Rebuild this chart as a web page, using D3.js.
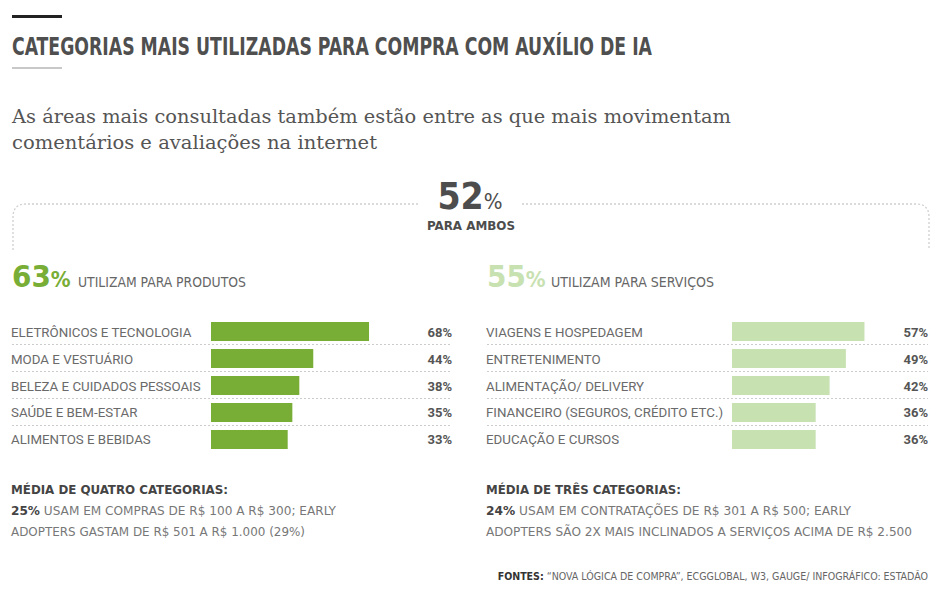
<!DOCTYPE html>
<html><head><meta charset="utf-8">
<script src="https://cdn.jsdelivr.net/npm/d3@7"></script>
<style>
html,body{margin:0;padding:0;background:#fff;}
svg{display:block;}
</style></head>
<body>
<script>
// ---- data ----
const produtosCategories = ["ELETRÔNICOS E TECNOLOGIA","MODA E VESTUÁRIO","BELEZA E CUIDADOS PESSOAIS","SAÚDE E BEM-ESTAR","ALIMENTOS E BEBIDAS"];
const produtosValues = [68,44,38,35,33];
const servicosCategories = ["VIAGENS E HOSPEDAGEM","ENTRETENIMENTO","ALIMENTAÇÃO/ DELIVERY","FINANCEIRO (SEGUROS, CRÉDITO ETC.)","EDUCAÇÃO E CURSOS"];
const servicosValues = [57,49,42,36,36];
const ambosShare = 52;
const produtosShare = 63;
const servicosShare = 55;

const title = "CATEGORIAS MAIS UTILIZADAS PARA COMPRA COM AUXÍLIO DE IA";
const subtitleLines = ["As áreas mais consultadas também estão entre as que mais movimentam","comentários e avaliações na internet"];
const leftNote = {head:"MÉDIA DE QUATRO CATEGORIAS:", bold:"25%", lines:[" USAM EM COMPRAS DE R$ 100 A R$ 300; EARLY","ADOPTERS GASTAM DE R$ 501 A R$ 1.000 (29%)"]};
const rightNote = {head:"MÉDIA DE TRÊS CATEGORIAS:", bold:"24%", lines:[" USAM EM CONTRATAÇÕES DE R$ 301 A R$ 500; EARLY","ADOPTERS SÃO 2X MAIS INCLINADOS A SERVIÇOS ACIMA DE R$ 2.500"]};
const sourceBold = "FONTES:";
const sourceText = " \u201CNOVA LÓGICA DE COMPRA\u201D, ECGGLOBAL, W3, GAUGE/ INFOGRÁFICO: ESTADÃO";

// ---- drawing ----
const W = 938, H = 601;
const svg = d3.select("body").append("svg").attr("width", W).attr("height", H);
const COND = "'DejaVu Sans Condensed','Liberation Sans Narrow','Roboto',sans-serif";
const SANS = "Roboto,'Noto Sans',sans-serif";
const darkGreen = "#78ad36", lightGreen = "#c8e1b1";

// fit a text element to a target width by adjusting its font-size
function fitWidth(sel, target){
  const n = sel.node();
  const w = n.getComputedTextLength();
  if (w > 0){
    const fs = parseFloat(sel.attr("font-size"));
    sel.attr("font-size", (fs*target/w).toFixed(2));
  }
  return sel;
}

// top rules
svg.append("rect").attr("x",12).attr("y",15).attr("width",50).attr("height",3).attr("fill","#222");
svg.append("rect").attr("x",12).attr("y",67).attr("width",50).attr("height",2).attr("fill","#c8c8c8");

// title
svg.append("text").attr("x",12).attr("y",55).text(title)
  .attr("font-family",COND).attr("font-weight",700).attr("font-size",24.5)
  .attr("fill","#4f4f4f").attr("textLength",640).attr("lengthAdjust","spacingAndGlyphs");

// subtitle
const subW = [719, 365];
subtitleLines.forEach((t,i)=>{
  svg.append("text").attr("x",12).attr("y",123+i*25.5).text(t)
    .attr("font-family","'DejaVu Serif','Liberation Serif',serif").attr("font-size",19)
    .attr("fill","#555").attr("textLength",subW[i]).attr("lengthAdjust","spacingAndGlyphs");
});

// dotted rounded box
const r = 13, bx0 = 13, bx1 = 929, by = 204, byb = 250;
svg.append("path").attr("d",`M418,${by} L${bx0+r},${by} Q${bx0},${by} ${bx0},${by+r} L${bx0},${byb}`)
  .attr("fill","none").attr("stroke","#cfcfcf").attr("stroke-width",1.3).attr("stroke-dasharray","2,2");
svg.append("path").attr("d",`M522,${by} L${bx1-r},${by} Q${bx1},${by} ${bx1},${by+r} L${bx1},${byb}`)
  .attr("fill","none").attr("stroke","#cfcfcf").attr("stroke-width",1.3).attr("stroke-dasharray","2,2");

// 52%
const big = svg.append("text").attr("x",470).attr("y",209).attr("text-anchor","middle")
  .attr("font-family",COND).attr("font-weight",700).attr("fill","#4d4d4d");
big.append("tspan").attr("font-size",37).text(ambosShare);
big.append("tspan").attr("font-size",22).attr("font-weight",400).text("%");
svg.append("text").attr("x",471).attr("y",230).attr("text-anchor","middle").text("PARA AMBOS")
  .attr("font-family",COND).attr("font-weight",700).attr("font-size",12).attr("fill","#4d4d4d")
  .attr("textLength",88).attr("lengthAdjust","spacingAndGlyphs");

// panels
const xScale = d3.scaleLinear().domain([0,100]).range([0,232.4]);

function panel(opt){
  const g = svg.append("g");
  // header
  const h = g.append("text").attr("x",opt.x0).attr("y",287);
  h.append("tspan").attr("font-family",COND).attr("font-weight",700).attr("font-size",31).attr("fill",opt.color).text(opt.share);
  h.append("tspan").attr("font-family",COND).attr("font-weight",700).attr("font-size",22).attr("fill",opt.color).text("%");
  fitWidth(g.append("text").attr("x",opt.headX).attr("y",287).text(opt.headText)
    .attr("font-family",COND).attr("font-size",13).attr("fill","#666"), opt.headW);

  const y = d3.scaleBand().domain(opt.cats).range([322,449]).paddingInner(0.296).paddingOuter(0);
  const rows = opt.cats.map((c,i)=>({c, v:opt.vals[i]}));
  // separators
  g.selectAll("line.sep").data(rows.slice(0,-1)).join("line")
    .attr("x1",opt.x0).attr("x2",opt.x1)
    .attr("y1",d=>y(d.c)+y.bandwidth()+3.5).attr("y2",d=>y(d.c)+y.bandwidth()+3.5)
    .attr("stroke","#cccccc").attr("stroke-width",1).attr("stroke-dasharray","2,2");
  g.selectAll("rect.bar").data(rows).join("rect")
    .attr("x",opt.barX).attr("y",d=>y(d.c)).attr("width",d=>xScale(d.v)).attr("height",y.bandwidth())
    .attr("fill",opt.color);
  g.selectAll("text.lab").data(rows).join("text")
    .attr("x",opt.x0-1).attr("y",d=>y(d.c)+y.bandwidth()/2+5).text(d=>d.c)
    .attr("font-family",SANS).attr("font-size",13.3).attr("fill","#6a6a6a");
  g.selectAll("text.val").data(rows).join("text")
    .attr("x",opt.x1).attr("y",d=>y(d.c)+y.bandwidth()/2+5).attr("text-anchor","end").text(d=>d.v+"%")
    .attr("font-family",SANS).attr("font-weight",700).attr("font-size",13).attr("fill","#555");

  // note
  g.append("text").attr("x",opt.x0-1).attr("y",494).text(opt.note.head)
    .attr("font-family",COND).attr("font-weight",700).attr("font-size",13).attr("fill","#444")
    .attr("textLength",opt.noteW[0]).attr("lengthAdjust","spacingAndGlyphs");
  const l1 = g.append("text").attr("x",opt.x0-1).attr("y",515)
    .attr("font-family",COND).attr("font-size",13).attr("fill","#777")
    .attr("textLength",opt.noteW[1]).attr("lengthAdjust","spacingAndGlyphs");
  l1.append("tspan").attr("font-weight",700).attr("fill","#444").text(opt.note.bold);
  l1.append("tspan").text(opt.note.lines[0]);
  g.append("text").attr("x",opt.x0-1).attr("y",536).text(opt.note.lines[1])
    .attr("font-family",COND).attr("font-size",13).attr("fill","#777")
    .attr("textLength",opt.noteW[2]).attr("lengthAdjust","spacingAndGlyphs");
}

panel({x0:12, x1:452, barX:211, color:darkGreen, share:produtosShare, headText:"UTILIZAM PARA PRODUTOS", headX:78, headW:168,
  cats:produtosCategories, vals:produtosValues, note:leftNote, noteW:[217,325,294]});
panel({x0:487, x1:928, barX:732, color:lightGreen, share:servicosShare, headText:"UTILIZAM PARA SERVIÇOS", headX:551, headW:163,
  cats:servicosCategories, vals:servicosValues, note:rightNote, noteW:[195,365,426]});

// source
const src = svg.append("text").attr("x",928).attr("y",580).attr("text-anchor","end")
  .attr("font-family",COND).attr("font-size",11).attr("fill","#666");
src.append("tspan").attr("font-weight",700).attr("fill","#333").text(sourceBold);
src.append("tspan").text(sourceText);
fitWidth(src, 431);
</script>
</body></html>
